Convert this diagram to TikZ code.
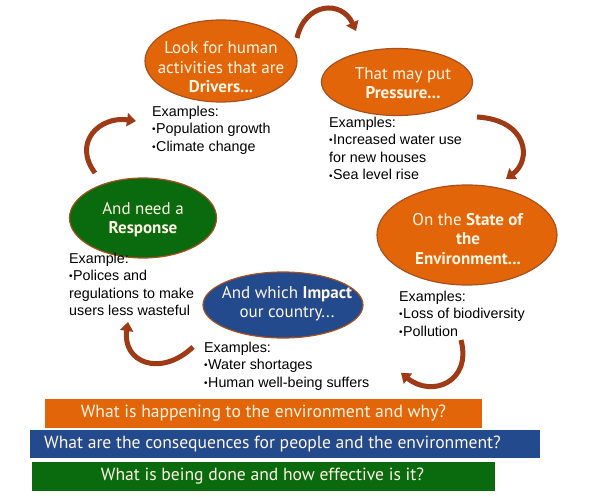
\documentclass[tikz,border=0pt]{standalone}
\usepackage{fontspec}
\setmainfont{Liberation Sans}
\newfontfamily\elfont{PT Sans}
\usetikzlibrary{shapes.geometric,arrows.meta}
\definecolor{orng}{HTML}{E3650A}
\definecolor{blu}{HTML}{224A8C}
\definecolor{grn}{HTML}{0A6A0E}
\definecolor{rim}{HTML}{A8501E}
\definecolor{arr}{HTML}{9E3A16}
\definecolor{cream}{HTML}{FFF6E4}
\tikzset{
  ell/.style={ellipse, draw=rim, line width=1.2pt, inner sep=0pt},
  elltext/.style={text=cream, align=center, font=\elfont\fontsize{17}{19.5}\selectfont},
  extext/.style={anchor=north west, inner sep=0pt, align=left, font=\fontsize{14.3}{17.6}\selectfont},
  bar/.style={rectangle, inner sep=0pt, draw=none},
  bartext/.style={text=cream, font=\elfont\fontsize{17.6}{20}\selectfont},
  cyc/.style={draw=arr, line width=5pt, -{Triangle[width=13pt,length=9pt]}}
}
\newcommand{\bul}{{\fontsize{10}{10}\selectfont\raisebox{0.15ex}{•}}\hspace{0.5pt}}
\begin{document}
\begin{tikzpicture}[x=1pt,y=-1pt]
\useasboundingbox[fill=white] (0,0) rectangle (592,497);

% ellipses
\node[ell, fill=orng, minimum width=152pt, minimum height=82pt] (drv) at (221,61) {};
\node[ell, fill=orng, minimum width=151pt, minimum height=67pt] (prs) at (397,82) {};
\node[ell, fill=orng, minimum width=180pt, minimum height=100pt] (sta) at (467,235) {};
\node[ell, fill=grn, minimum width=147pt, minimum height=80pt] (rsp) at (143,218) {};
\node[ell, fill=blu, minimum width=160pt, minimum height=66pt] (imp) at (283,305) {};

% ellipse texts
\node[elltext] (drvt) at (221,67.5) {Look for human\\activities that are\\\textbf{Drivers...}};
\node[elltext] (prst) at (403,83) {That may put\\\textbf{Pressure...}};
\node[elltext] (stat) at (468,239) {On the \textbf{State of}\\\textbf{the}\\\textbf{Environment...}};
\node[elltext] (rspt) at (143,219.5) {And need a\\\textbf{Response}};
\node[elltext] (impt) at (287,303.5) {And which \textbf{Impact}\\our country...};

% examples
\node[extext] (drve) at (152,105.5) {Examples:\\\bul Population growth\\\bul Climate change};
\node[extext] (prse) at (329,116.5) {Examples:\\\bul Increased water use\\for new houses\\\bul Sea level rise};
\node[extext] (rspe) at (69,252.5) {Example:\\\bul Polices and\\regulations to make\\users less wasteful};
\node[extext] (stae) at (399,290.5) {Examples:\\\bul Loss of biodiversity\\\bul Pollution};
\node[extext] (impe) at (204,341.5) {Examples:\\\bul Water shortages\\\bul Human well-being suffers};

% cycle arrows
\coordinate (a1s) at (297,38); \coordinate (a1e) at (356,31);
\coordinate (a2s) at (477,117); \coordinate (a2e) at (506,179);
\coordinate (a3s) at (461,340); \coordinate (a3e) at (401,373);
\coordinate (a4s) at (193,347); \coordinate (a4e) at (128,322);
\coordinate (a5s) at (95,173); \coordinate (a5e) at (136,121);
\draw[cyc] (a1s) .. controls (305,2) and (342,0) .. (a1e);
\draw[cyc] (a2s) .. controls (528,120) and (532,160) .. (a2e);
\draw[cyc] (a3s) .. controls (472,382) and (432,398) .. (a3e);
\draw[cyc] (a4s) .. controls (160,378) and (122,362) .. (a4e);
\draw[cyc] (a5s) .. controls (72,142) and (100,116) .. (a5e);

% bars
\node[bar, fill=orng, minimum width=437pt, minimum height=29pt] (b1) at (263.5,413.5) {};
\node[bar, fill=blu, minimum width=510pt, minimum height=28pt] (b2) at (285,444) {};
\node[bar, fill=grn, minimum width=463pt, minimum height=29pt] (b3) at (263.5,476.5) {};
\node[bartext] (b1t) at (263.5,413.5) {What is happening to the environment and why?};
\node[bartext] (b2t) at (272.5,444) {What are the consequences for people and the environment?};
\node[bartext] (b3t) at (262.5,476.5) {What is being done and how effective is it?};
\end{tikzpicture}
\end{document}
